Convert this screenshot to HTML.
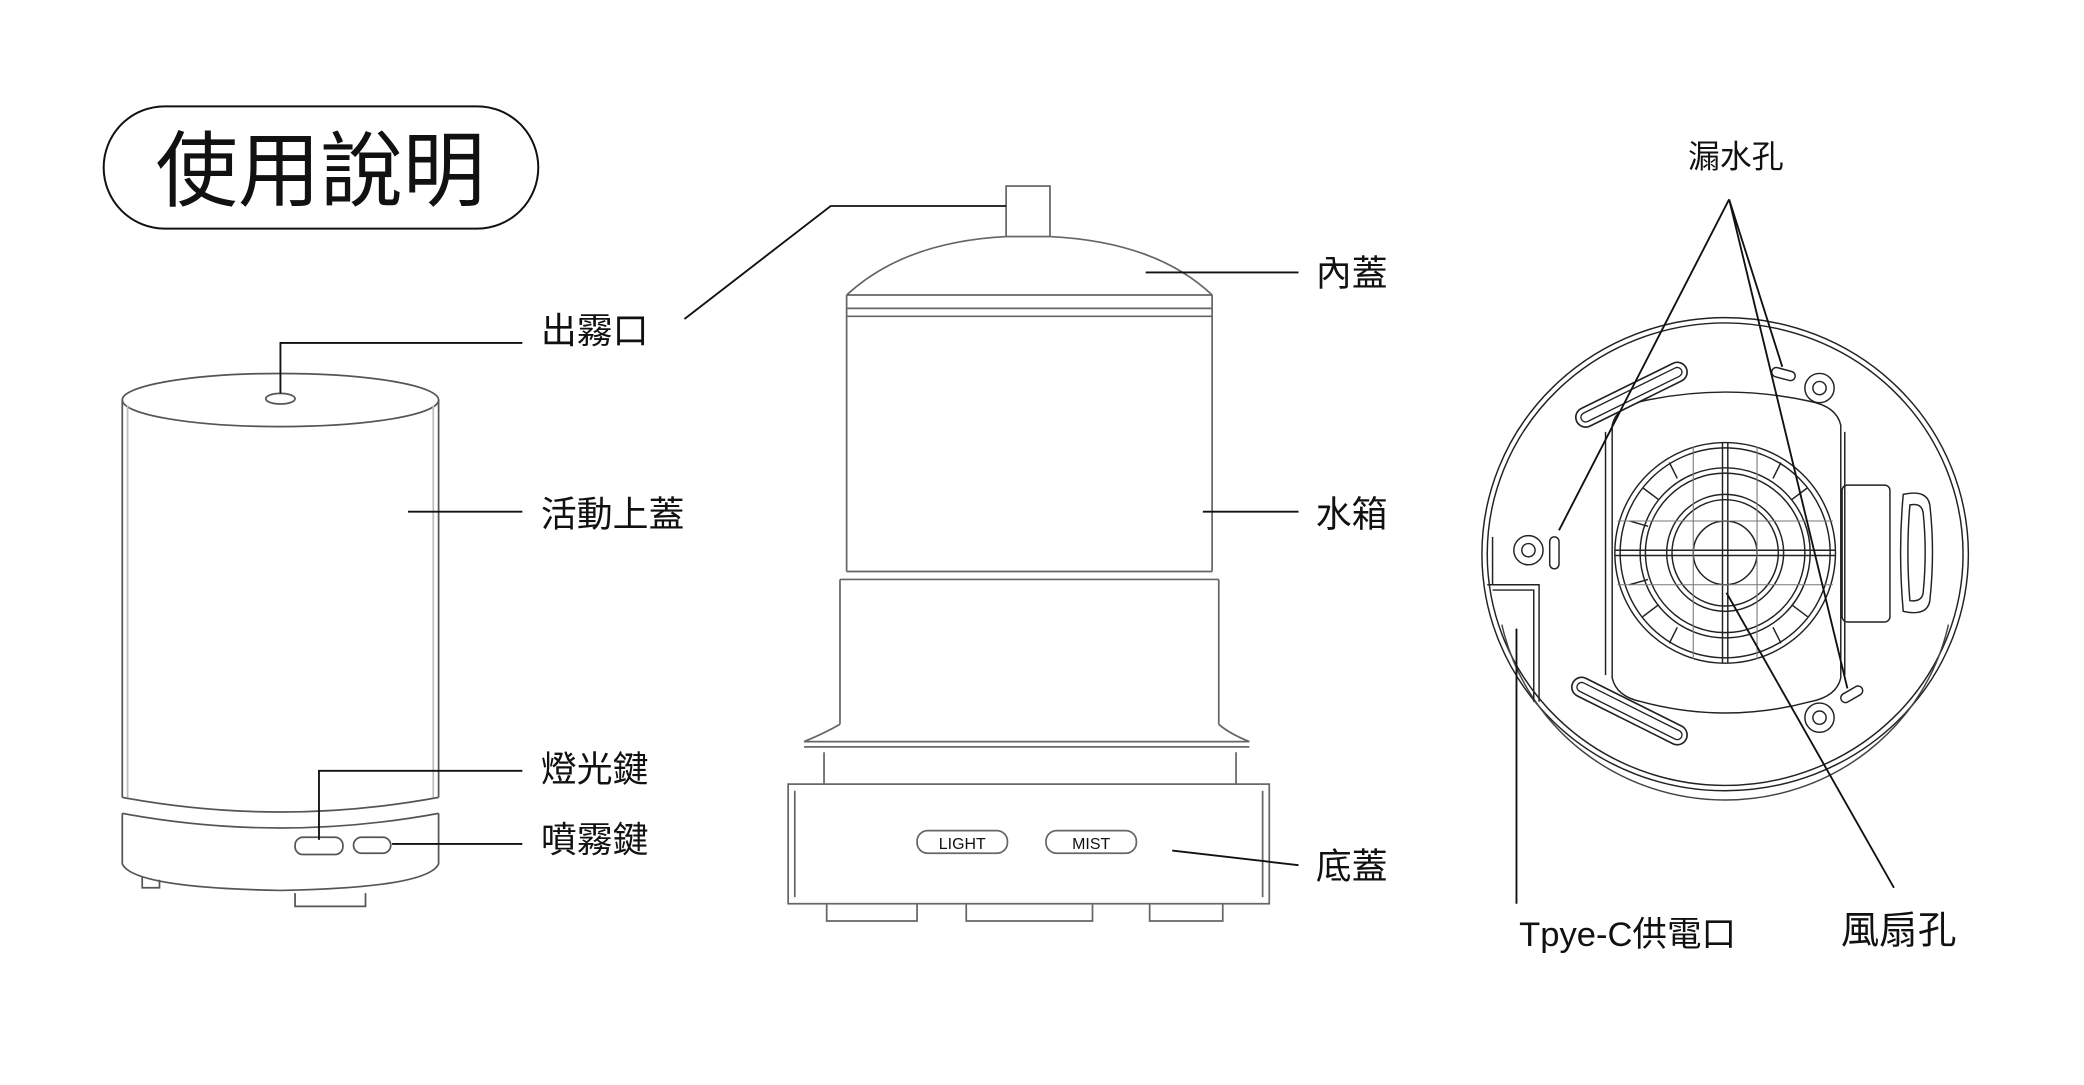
<!DOCTYPE html>
<html><head><meta charset="utf-8"><style>
html,body{margin:0;padding:0;background:#fff;}
svg{display:block;}
text{font-family:"Liberation Sans","Noto Sans CJK TC",sans-serif;fill:#111;}
</style></head><body>
<svg width="2084" height="1085" viewBox="0 0 1568 816.4" preserveAspectRatio="none" xmlns="http://www.w3.org/2000/svg">
<rect width="1568" height="817" fill="#fff"/>
<!-- title -->
<rect x="78" y="80" width="327" height="92" rx="46" fill="none" stroke="#111" stroke-width="1.5"/>
<text x="241" y="150" font-size="62" text-anchor="middle">使用說明</text>

<!-- left device -->
<g fill="none" stroke="#555" stroke-width="1.3">
<ellipse cx="211" cy="301" rx="119" ry="20"/>
<path d="M92 301 V600 M330 301 V600"/>
<path d="M96 305 V600 M326 305 V600" stroke="#bbb"/>
<path d="M92 600 Q211 622 330 600 M92 612 Q211 634 330 612"/>
<path d="M92 612 V650 Q100 668 211 670 Q322 668 330 650 V612"/>
<ellipse cx="211" cy="300" rx="11" ry="4"/>
<rect x="222" y="630" width="36" height="13" rx="6"/>
<rect x="266" y="630" width="28" height="12" rx="6"/>
<path d="M222 672 V682 H275 V672 M107 660 V668 H120 V662"/>
</g>
<g stroke="#111" stroke-width="1.4" fill="none">
<path d="M211 296 V258 H393"/>
<path d="M307 385 H393"/>
<path d="M240 632 V580 H393"/>
<path d="M295 635 H393"/>
</g>
<text x="407" y="258" font-size="27">出霧口</text>
<text x="407" y="396" font-size="27">活動上蓋</text>
<text x="407" y="588" font-size="27">燈光鍵</text>
<text x="407" y="641" font-size="27">噴霧鍵</text>

<!-- middle device -->
<g fill="none" stroke="#666" stroke-width="1.3">
<rect x="757" y="140" width="33" height="38"/>
<path d="M637 222 Q680 182 757 178 M790 178 Q870 182 912 222"/>
<path d="M637 222 H912 M637 232 H912 M637 238 H912"/>
<path d="M637 222 V430 M912 222 V430"/>
<path d="M637 430 H912 M632 436 H917 M632 436 V545 M917 436 V545"/>
<path d="M632 545 Q620 552 605 558 H940 Q925 552 917 545"/>
<path d="M605 562 H940 M620 566 V590 M930 566 V590"/>
<rect x="593" y="590" width="362" height="90"/>
<path d="M598 595 V675 M950 595 V675"/>
<rect x="690" y="625" width="68" height="17" rx="8"/>
<rect x="787" y="625" width="68" height="17" rx="8"/>
<path d="M622 680 V693 H690 V680 M727 680 V693 H822 V680 M865 680 V693 H920 V680"/>
</g>
<text x="724" y="639" font-size="12" text-anchor="middle" fill="#444">LIGHT</text>
<text x="821" y="639" font-size="12" text-anchor="middle" fill="#444">MIST</text>
<g stroke="#111" stroke-width="1.4" fill="none">
<path d="M515 240 L625 155 H757"/>
<path d="M862 205 H977"/>
<path d="M905 385 H977"/>
<path d="M882 640 L977 651"/>
</g>
<text x="990" y="215" font-size="27">內蓋</text>
<text x="990" y="396" font-size="27">水箱</text>
<text x="990" y="661" font-size="27">底蓋</text>

<!-- right bottom view -->
<g fill="none" stroke="#222" stroke-width="1.1">
<ellipse cx="1298" cy="417" rx="183" ry="178"/>
<ellipse cx="1298" cy="417" rx="179" ry="174"/>
<path d="M1130 470 A172 168 0 0 0 1466 470" stroke="#444"/>
<path d="M1213 320 Q1216 306 1235 302 Q1298 288 1362 302 Q1382 306 1385 320 V510 Q1382 524 1362 528 Q1298 545 1235 528 Q1216 524 1213 510 Z"/>
<path d="M1208 325 V508 M1388 325 V508"/>
<circle cx="1298" cy="416" r="83"/><circle cx="1298" cy="416" r="79"/>
<circle cx="1298" cy="416" r="64"/><circle cx="1298" cy="416" r="60"/>
<circle cx="1298" cy="416" r="44"/><circle cx="1298" cy="416" r="40"/>
<circle cx="1298" cy="416" r="24"/>
<path d="M1215 414 H1381 M1215 418 H1381 M1296 333 V499 M1300 333 V499"/>
<path d="M1226 392 L1240 396 M1236 367 L1248 376 M1256 348 L1262 360 M1340 348 L1334 360 M1360 367 L1348 376 M1226 440 L1240 436 M1236 464 L1248 455 M1256 484 L1262 472 M1340 484 L1334 472 M1360 464 L1348 455"/>
<path d="M1217 392 H1379 M1217 440 H1379 M1274 336 V496 M1322 336 V496" stroke="#777" stroke-width="0.8"/>
<line x1="1193" y1="314" x2="1262" y2="280" stroke-width="16" stroke-linecap="round"/>
<line x1="1193" y1="314" x2="1262" y2="280" stroke="#fff" stroke-width="13.5" stroke-linecap="round"/>
<line x1="1193" y1="314" x2="1262" y2="280" stroke-width="8" stroke-linecap="round"/>
<line x1="1193" y1="314" x2="1262" y2="280" stroke="#fff" stroke-width="6" stroke-linecap="round"/>
<line x1="1190" y1="517" x2="1262" y2="553" stroke-width="16" stroke-linecap="round"/>
<line x1="1190" y1="517" x2="1262" y2="553" stroke="#fff" stroke-width="13.5" stroke-linecap="round"/>
<line x1="1190" y1="517" x2="1262" y2="553" stroke-width="8" stroke-linecap="round"/>
<line x1="1190" y1="517" x2="1262" y2="553" stroke="#fff" stroke-width="6" stroke-linecap="round"/>
<path d="M1432 372 Q1450 368 1452 380 Q1456 415 1452 452 Q1450 464 1432 460 Q1428 415 1432 372 Z"/>
<path d="M1437 380 Q1446 378 1447 386 Q1450 415 1447 446 Q1446 453 1437 452 Q1434 415 1437 380 Z"/>
<rect x="1386" y="365" width="36" height="103" rx="4"/>
<circle cx="1150" cy="414" r="11"/><circle cx="1150" cy="414" r="5"/>
<circle cx="1369" cy="292" r="11"/><circle cx="1369" cy="292" r="5"/>
<circle cx="1369" cy="540" r="11"/><circle cx="1369" cy="540" r="5"/>
<rect x="1166" y="404" width="7" height="24" rx="3.5"/>
<rect x="1333" y="278" width="18" height="7" rx="3.5" transform="rotate(15 1342 281)"/>
<rect x="1384" y="519" width="18" height="7" rx="3.5" transform="rotate(-30 1393 522)"/>
<path d="M1119 440 H1158 V528 M1123 444 H1154 V528 M1123 440 V404"/>
</g>
<g stroke="#111" stroke-width="1.4" fill="none">
<path d="M1301 150 L1173 399 M1301 150 L1341 276 M1301 150 L1390 518"/>
<path d="M1141 473 V680"/>
<path d="M1299 446 L1425 668"/>
</g>
<text x="1306" y="126" font-size="24" text-anchor="middle">漏水孔</text>
<text x="1143" y="712" font-size="26">Tpye-C供電口</text>
<text x="1385" y="710" font-size="29">風扇孔</text>
</svg>
</body></html>
